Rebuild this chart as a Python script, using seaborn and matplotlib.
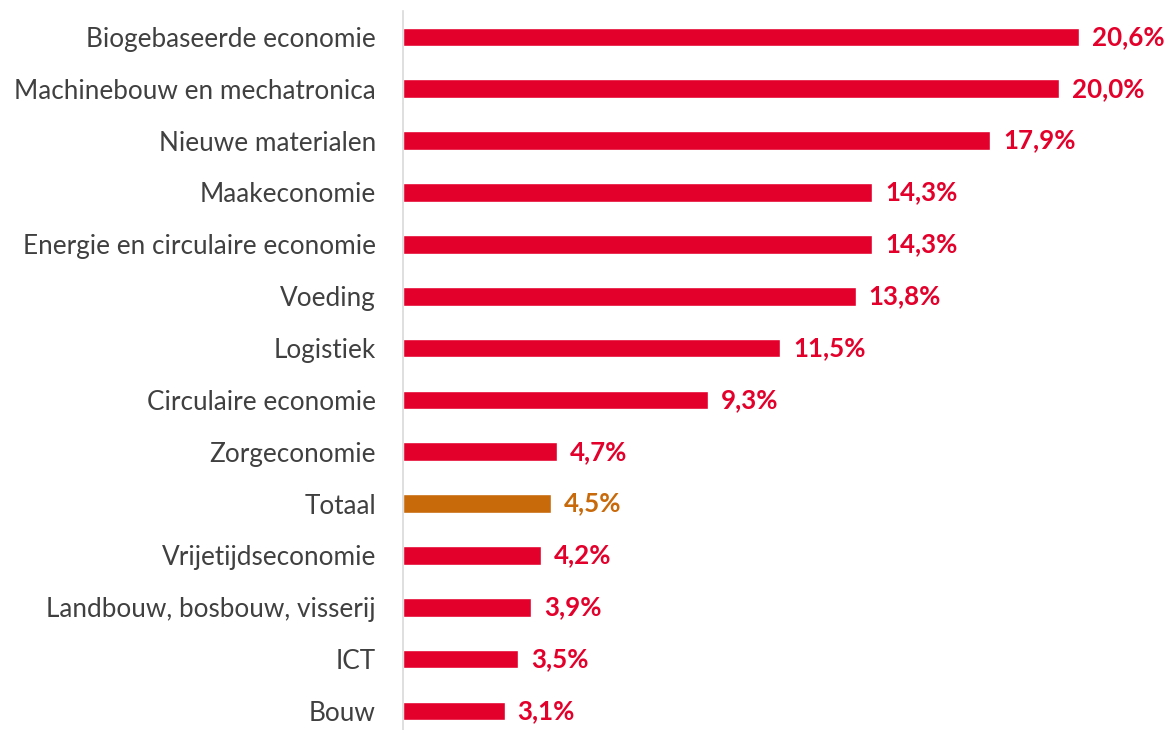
import matplotlib
matplotlib.use("Agg")
import matplotlib.pyplot as plt
import seaborn as sns
import pandas as pd

categories = ["Biogebaseerde economie", "Machinebouw en mechatronica", "Nieuwe materialen",
              "Maakeconomie", "Energie en circulaire economie", "Voeding", "Logistiek",
              "Circulaire economie", "Zorgeconomie", "Totaal", "Vrijetijdseconomie",
              "Landbouw, bosbouw, visserij", "ICT", "Bouw"]
values = [20.6, 20.0, 17.9, 14.3, 14.3, 13.8, 11.5, 9.3, 4.7, 4.5, 4.2, 3.9, 3.5, 3.1]
labels = ["20,6%", "20,0%", "17,9%", "14,3%", "14,3%", "13,8%", "11,5%", "9,3%", "4,7%",
          "4,5%", "4,2%", "3,9%", "3,5%", "3,1%"]

RED = "#E3002B"
ORANGE = "#C8690A"
colors = [ORANGE if c == "Totaal" else RED for c in categories]

sns.set_theme(style="white")
plt.rcParams['font.family'] = ['Lato', 'DejaVu Sans']

df = pd.DataFrame({"cat": categories, "val": values})

fig = plt.figure(figsize=(11.67, 7.3), dpi=100)
ax = fig.add_axes([403/1167, 0, 1 - 403/1167, 1 - 11/730])
sns.barplot(data=df, x="val", y="cat", hue="cat", palette=colors, legend=False,
            width=0.36, saturation=1, ax=ax, orient="h")

ax.set_xlim(0, (1167 - 403) / 32.8)
ax.set_ylim(13 + 19/51.85, -0.5)
ax.set_xlabel("")
ax.set_ylabel("")
ax.set_xticks([])
for s in ["top", "right", "bottom"]:
    ax.spines[s].set_visible(False)
ax.spines["left"].set_color("#D9D9D9")
ax.spines["left"].set_linewidth(1.2)
ax.tick_params(axis="y", length=0, pad=19.5, labelsize=18.8, labelcolor="#404040")

for i, (v, lab, c) in enumerate(zip(values, labels, colors)):
    ax.annotate(lab, (v, i), xytext=(13, 0), textcoords="offset pixels",
                va="center", ha="left", fontsize=18.6, fontweight="bold", color=c)

fig.savefig("out.png", dpi=100)
